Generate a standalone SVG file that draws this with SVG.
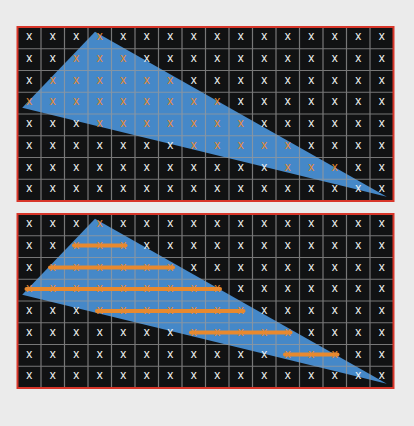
<svg xmlns="http://www.w3.org/2000/svg" width="414" height="426" viewBox="0 0 414 426">
<style>
.cell{fill:#111213}
.tri{fill:#4588c8}
.grid{fill:none;stroke:#9a9a9a;stroke-opacity:0.75;stroke-width:1.2}
.frame{fill:none;stroke:#d8362a;stroke-width:2}
.xs{font-family:"Liberation Sans",Arial,sans-serif;font-size:12px;fill:#f2f2f2;text-anchor:middle}
.o{fill:#e58a33}
.span{stroke:#e8892e;stroke-width:4;stroke-linecap:round}
</style>
<defs>
<path id="gridlines" class="grid" d="M41 27V201M64.5 27V201M88 27V201M111.5 27V201M135 27V201M158.5 27V201M182 27V201M205.5 27V201M229 27V201M252.5 27V201M276 27V201M299.5 27V201M323 27V201M346.5 27V201M370 27V201M17.5 48.75H393.5M17.5 70.5H393.5M17.5 92.25H393.5M17.5 114H393.5M17.5 135.75H393.5M17.5 157.5H393.5M17.5 179.25H393.5"/>
</defs>
<rect width="414" height="426" fill="#ebebeb"/>
<g id="panel-top">
<rect class="cell" x="17.5" y="27" width="376" height="174"/>
<polygon class="tri" points="95,31.7 22.2,107.7 386.8,196.7"/>
<use href="#gridlines"/>
<g class="xs">
<text x="29.25 52.75 76.25 99.75 123.25 146.75 170.25 193.75 217.25 240.75 264.25 287.75 311.25 334.75 358.25 381.75" y="40.2">xxx<tspan class="o">x</tspan>xxxxxxxxxxxx</text>
<text x="29.25 52.75 76.25 99.75 123.25 146.75 170.25 193.75 217.25 240.75 264.25 287.75 311.25 334.75 358.25 381.75" y="61.9">xx<tspan class="o">xxx</tspan>xxxxxxxxxxx</text>
<text x="29.25 52.75 76.25 99.75 123.25 146.75 170.25 193.75 217.25 240.75 264.25 287.75 311.25 334.75 358.25 381.75" y="83.7">x<tspan class="o">xxxxxx</tspan>xxxxxxxxx</text>
<text x="29.25 52.75 76.25 99.75 123.25 146.75 170.25 193.75 217.25 240.75 264.25 287.75 311.25 334.75 358.25 381.75" y="105.4"><tspan class="o">xxxxxxxxx</tspan>xxxxxxx</text>
<text x="29.25 52.75 76.25 99.75 123.25 146.75 170.25 193.75 217.25 240.75 264.25 287.75 311.25 334.75 358.25 381.75" y="127.2">xxx<tspan class="o">xxxxxxx</tspan>xxxxxx</text>
<text x="29.25 52.75 76.25 99.75 123.25 146.75 170.25 193.75 217.25 240.75 264.25 287.75 311.25 334.75 358.25 381.75" y="148.9">xxxxxxx<tspan class="o">xxxxx</tspan>xxxx</text>
<text x="29.25 52.75 76.25 99.75 123.25 146.75 170.25 193.75 217.25 240.75 264.25 287.75 311.25 334.75 358.25 381.75" y="170.7">xxxxxxxxxxx<tspan class="o">xxx</tspan>xx</text>
<text x="29.25 52.75 76.25 99.75 123.25 146.75 170.25 193.75 217.25 240.75 264.25 287.75 311.25 334.75 358.25 381.75" y="192.4">xxxxxxxxxxxxxxxx</text>
</g>
<rect class="frame" x="17.5" y="27" width="376" height="174"/>
</g>
<g id="panel-bottom" transform="translate(0,187)">
<rect class="cell" x="17.5" y="27" width="376" height="174"/>
<polygon class="tri" points="95,31.7 22.2,107.7 386.8,196.7"/>
<use href="#gridlines"/>
<g id="spans" class="span">
<line x1="74" y1="58.6" x2="125.5" y2="58.6"/>
<line x1="50" y1="80.4" x2="173" y2="80.4"/>
<line x1="26.5" y1="102.1" x2="220" y2="102.1"/>
<line x1="97" y1="123.9" x2="243.5" y2="123.9"/>
<line x1="191" y1="145.6" x2="290.5" y2="145.6"/>
<line x1="285" y1="167.4" x2="337.5" y2="167.4"/>
</g>
<g class="xs">
<text x="29.25 52.75 76.25 99.75 123.25 146.75 170.25 193.75 217.25 240.75 264.25 287.75 311.25 334.75 358.25 381.75" y="40.2">xxx<tspan class="o">x</tspan>xxxxxxxxxxxx</text>
<text x="29.25 52.75 76.25 99.75 123.25 146.75 170.25 193.75 217.25 240.75 264.25 287.75 311.25 334.75 358.25 381.75" y="61.9">xx<tspan class="o">xxx</tspan>xxxxxxxxxxx</text>
<text x="29.25 52.75 76.25 99.75 123.25 146.75 170.25 193.75 217.25 240.75 264.25 287.75 311.25 334.75 358.25 381.75" y="83.7">x<tspan class="o">xxxxxx</tspan>xxxxxxxxx</text>
<text x="29.25 52.75 76.25 99.75 123.25 146.75 170.25 193.75 217.25 240.75 264.25 287.75 311.25 334.75 358.25 381.75" y="105.4"><tspan class="o">xxxxxxxxx</tspan>xxxxxxx</text>
<text x="29.25 52.75 76.25 99.75 123.25 146.75 170.25 193.75 217.25 240.75 264.25 287.75 311.25 334.75 358.25 381.75" y="127.2">xxx<tspan class="o">xxxxxxx</tspan>xxxxxx</text>
<text x="29.25 52.75 76.25 99.75 123.25 146.75 170.25 193.75 217.25 240.75 264.25 287.75 311.25 334.75 358.25 381.75" y="148.9">xxxxxxx<tspan class="o">xxxxx</tspan>xxxx</text>
<text x="29.25 52.75 76.25 99.75 123.25 146.75 170.25 193.75 217.25 240.75 264.25 287.75 311.25 334.75 358.25 381.75" y="170.7">xxxxxxxxxxx<tspan class="o">xxx</tspan>xx</text>
<text x="29.25 52.75 76.25 99.75 123.25 146.75 170.25 193.75 217.25 240.75 264.25 287.75 311.25 334.75 358.25 381.75" y="192.4">xxxxxxxxxxxxxxxx</text>
</g>
<rect class="frame" x="17.5" y="27" width="376" height="174"/>
</g>
</svg>
